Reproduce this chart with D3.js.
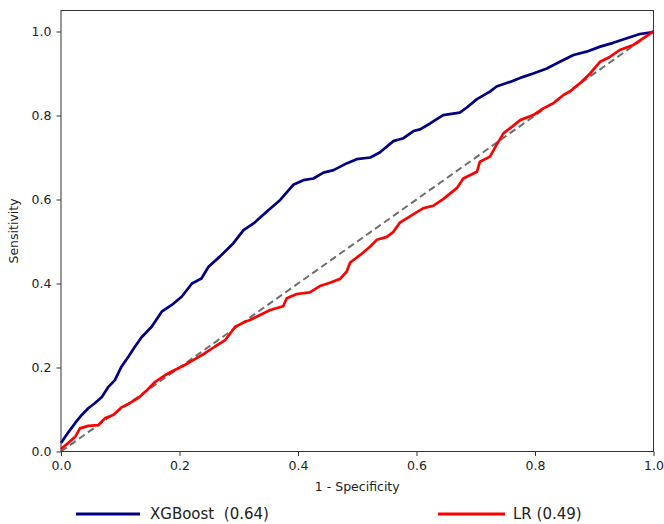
<!DOCTYPE html>
<html>
<head>
<meta charset="utf-8">
<script src="https://cdn.jsdelivr.net/npm/d3@7"></script>
<style>
  body { margin: 0; background: #fff; }
  text { font-family: "DejaVu Sans", sans-serif; }
</style>
</head>
<body>
<div id="chart"></div>
<script>
"use strict";

// == DATA ==
var xgbFpr = [0, 0.012, 0.024, 0.035, 0.046, 0.057, 0.069, 0.080, 0.091, 0.102, 0.114, 0.125, 0.136, 0.153, 0.170, 0.187, 0.204, 0.221, 0.237, 0.249, 0.268, 0.291, 0.308, 0.325, 0.347, 0.370, 0.392, 0.409, 0.426, 0.443, 0.460, 0.482, 0.499, 0.522, 0.538, 0.561, 0.578, 0.595, 0.606, 0.623, 0.645, 0.673, 0.685, 0.702, 0.724, 0.735, 0.758, 0.780, 0.797, 0.820, 0.842, 0.865, 0.887, 0.910, 0.932, 0.955, 0.977, 0.997, 1];
var xgbTpr = [0.020, 0.045, 0.068, 0.087, 0.103, 0.115, 0.130, 0.154, 0.170, 0.202, 0.226, 0.250, 0.272, 0.297, 0.333, 0.349, 0.369, 0.400, 0.412, 0.440, 0.464, 0.496, 0.527, 0.543, 0.571, 0.599, 0.635, 0.646, 0.650, 0.664, 0.670, 0.686, 0.696, 0.700, 0.712, 0.739, 0.746, 0.763, 0.767, 0.781, 0.801, 0.807, 0.819, 0.839, 0.857, 0.869, 0.880, 0.892, 0.900, 0.912, 0.928, 0.944, 0.952, 0.964, 0.973, 0.984, 0.994, 0.998, 1];

var lrFpr = [0, 0.012, 0.024, 0.032, 0.046, 0.063, 0.074, 0.088, 0.102, 0.116, 0.130, 0.145, 0.159, 0.176, 0.192, 0.209, 0.226, 0.243, 0.260, 0.277, 0.294, 0.311, 0.319, 0.336, 0.353, 0.375, 0.381, 0.398, 0.420, 0.437, 0.454, 0.471, 0.482, 0.488, 0.505, 0.522, 0.533, 0.550, 0.561, 0.572, 0.595, 0.611, 0.628, 0.645, 0.668, 0.679, 0.702, 0.707, 0.724, 0.735, 0.747, 0.761, 0.775, 0.797, 0.814, 0.831, 0.848, 0.859, 0.876, 0.893, 0.910, 0.927, 0.943, 0.966, 0.983, 1];
var lrTpr = [0.006, 0.020, 0.035, 0.055, 0.061, 0.063, 0.079, 0.087, 0.105, 0.115, 0.127, 0.146, 0.166, 0.182, 0.194, 0.206, 0.220, 0.234, 0.250, 0.265, 0.297, 0.309, 0.313, 0.325, 0.337, 0.346, 0.365, 0.375, 0.379, 0.394, 0.402, 0.411, 0.428, 0.450, 0.468, 0.488, 0.504, 0.511, 0.523, 0.545, 0.565, 0.579, 0.585, 0.601, 0.627, 0.650, 0.666, 0.690, 0.702, 0.730, 0.758, 0.773, 0.789, 0.801, 0.817, 0.829, 0.849, 0.857, 0.877, 0.900, 0.928, 0.940, 0.956, 0.968, 0.984, 1];

var series = [
  { name: "XGBoost", auc: "0.64", color: "#000080", fpr: xgbFpr, tpr: xgbTpr },
  { name: "LR", auc: "0.49", color: "#ff0000", fpr: lrFpr, tpr: lrTpr }
];
var ticks = [0, 0.2, 0.4, 0.6, 0.8, 1.0];

// == BOILERPLATE ==
var margin = { top: 10.5, right: 10, bottom: 72, left: 61 },
    width = 592.5,
    height = 441;

var svg = d3.select("#chart")
  .append("svg")
  .attr("width", 664)
  .attr("height", 524);

var g = svg.append("g")
  .attr("transform", "translate(" + margin.left + "," + margin.top + ")");

var x = d3.scaleLinear().domain([0, 1]).range([0, width]);
var y = d3.scaleLinear().domain([0, 1.05]).range([height, 0]);

// == AXES ==
var xAxis = g.append("g")
  .attr("transform", "translate(0," + height + ")")
  .call(d3.axisBottom(x).tickValues(ticks).tickFormat(d3.format(".1f")).tickSize(4.5).tickPadding(5));
var yAxis = g.append("g")
  .call(d3.axisLeft(y).tickValues(ticks).tickFormat(d3.format(".1f")).tickSize(4.5).tickPadding(5));

[xAxis, yAxis].forEach(function (a) {
  a.select(".domain").remove();
  a.selectAll(".tick line").attr("stroke", "#333");
  a.selectAll(".tick text").attr("fill", "#222").style("font-size", "12.5px");
});

g.append("text")
  .attr("x", width / 2)
  .attr("y", height + 39)
  .attr("text-anchor", "middle")
  .style("font-size", "12.5px")
  .attr("fill", "#222")
  .text("1 - Specificity");

g.append("text")
  .attr("transform", "translate(-43," + (height / 2) + ") rotate(-90)")
  .attr("text-anchor", "middle")
  .style("font-size", "12.5px")
  .attr("fill", "#222")
  .text("Sensitivity");

// == CHANCE LINE ==
g.append("line")
  .attr("x1", x(0)).attr("y1", y(0))
  .attr("x2", x(1)).attr("y2", y(1))
  .attr("stroke", "#6e6e6e")
  .attr("stroke-width", 2)
  .attr("stroke-dasharray", "7,4");

// == CURVES ==
var line = d3.line()
  .x(function (d) { return x(d[0]); })
  .y(function (d) { return y(d[1]); });

series.forEach(function (s) {
  var pts = d3.zip(s.fpr, s.tpr);
  g.append("path")
    .datum(pts)
    .attr("fill", "none")
    .attr("stroke", s.color)
    .attr("stroke-width", 2.7)
    .attr("stroke-linejoin", "round")
    .attr("d", line);
});

// frame
g.append("rect")
  .attr("width", width)
  .attr("height", height)
  .attr("fill", "none")
  .attr("stroke", "#333")
  .attr("stroke-width", 1);

// == LEGEND ==
var legendPos = [{ x: 76, w: 64 }, { x: 438, w: 67 }];
series.forEach(function (s, i) {
  var lg = svg.append("g").attr("transform", "translate(" + legendPos[i].x + ",514)");
  lg.append("line")
    .attr("x1", 0).attr("x2", legendPos[i].w)
    .attr("stroke", s.color)
    .attr("stroke-width", 3);
  lg.append("text")
    .attr("x", legendPos[i].w + (i === 0 ? 10 : 8))
    .attr("dy", "0.35em")
    .style("font-size", "15px")
    .style("white-space", "pre")
    .attr("fill", "#222")
    .text(s.name + (i === 0 ? "  " : " ") + "(" + s.auc + ")");
});
</script>
</body>
</html>
